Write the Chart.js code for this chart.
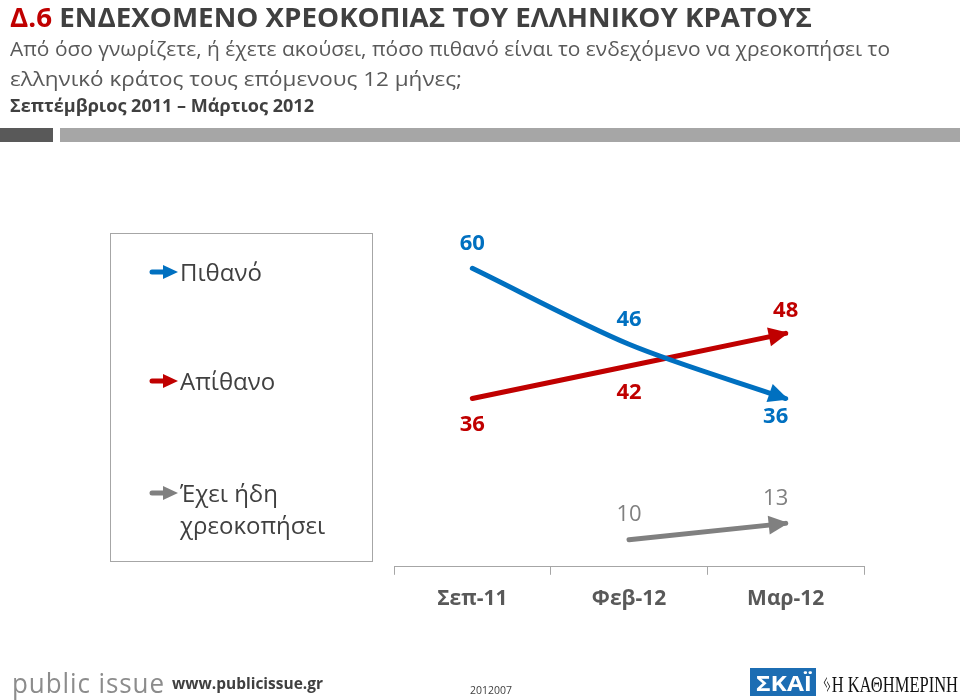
<!DOCTYPE html>
<html>
<head>
<meta charset="utf-8">
<script src="https://cdn.jsdelivr.net/npm/chart.js@4.4.1/dist/chart.umd.min.js"></script>
<style>
  html,body{margin:0;padding:0;background:#fff;}
  body{width:960px;height:700px;overflow:hidden;position:relative;font-family:"Open Sans","Noto Sans",sans-serif;}
  .t{position:absolute;white-space:nowrap;transform-origin:0 0;display:inline-block;line-height:1;}
  #chartWrap{position:absolute;left:0;top:0;width:960px;height:700px;}
  #legend{position:absolute;left:110px;top:233px;width:263px;height:329px;border:1px solid #A6A6A6;box-sizing:border-box;}
  .li{position:absolute;left:38px;font-size:24px;color:#404040;line-height:32px;}
  .li svg{position:absolute;left:0;top:8px;}
  .li span{position:absolute;left:31px;white-space:nowrap;}
</style>
</head>
<body>
<div id="chartWrap"><canvas id="c" width="960" height="700"></canvas></div>

<div class="t" id="title" data-w="802" style="left:10px;top:3px;font-size:27px;font-weight:bold;color:#404040;"><span style="color:#C00000">Δ.6</span> ΕΝΔΕΧΟΜΕΝΟ ΧΡΕΟΚΟΠΙΑΣ ΤΟΥ ΕΛΛΗΝΙΚΟΥ ΚΡΑΤΟΥΣ</div>
<div class="t" data-w="880" style="left:10px;top:39px;font-size:20px;color:#595959;">Από όσο γνωρίζετε, ή έχετε ακούσει, πόσο πιθανό είναι το ενδεχόμενο να χρεοκοπήσει το</div>
<div class="t" data-w="452" style="left:10px;top:69px;font-size:20px;color:#595959;">ελληνικό κράτος τους επόμενους 12 μήνες;</div>
<div class="t" data-w="304" style="left:10px;top:97px;font-size:17px;font-weight:bold;color:#404040;">Σεπτέμβριος 2011 – Μάρτιος 2012</div>
<div style="position:absolute;left:0;top:128px;width:53px;height:14px;background:#595959;"></div>
<div style="position:absolute;left:60px;top:128px;width:900px;height:14px;background:#A6A6A6;"></div>

<div id="legend"></div>

<div class="t" data-w="153" style="left:12px;top:668px;font-size:28px;color:#8C8C8C;letter-spacing:1px;">public issue</div>
<div class="t" data-w="151" style="left:172px;top:675px;font-size:16px;font-weight:bold;color:#404040;">www.publicissue.gr</div>
<div class="t" data-w="42" style="left:470px;top:684px;font-size:11px;color:#404040;">2012007</div>
<div style="position:absolute;left:750px;top:668px;width:66px;height:28px;background:#1C6DB3;"></div>
<div class="t" data-w="56" style="left:756px;top:671px;font-size:22px;font-weight:bold;color:#fff;">ΣΚΑΪ</div>
<div class="t" data-w="136" style="left:822px;top:672px;font-size:24px;color:#111;font-family:'Liberation Serif','DejaVu Serif',serif;">ᛃΗ ΚΑΘΗΜΕΡΙΝΗ</div>

<script>
// ---- data ----
const categories = ['Σεπ-11', 'Φεβ-12', 'Μαρ-12'];
const seriesNames = ['Πιθανό', 'Απίθανο', 'Έχει ήδη χρεοκοπήσει'];
const likely = [60, 46, 36];
const unlikely = [36, 42, 48];
const alreadyDefaulted = [null, 10, 13];

const colors = ['#0070C0', '#C00000', '#808080'];

// ---- legend (HTML) ----
(function(){
  const lg = document.getElementById('legend');
  const tops = [22, 131, 243];
  const labels = [seriesNames[0], seriesNames[1], 'Έχει ήδη<br>χρεοκοπήσει'];
  labels.forEach((txt, i) => {
    const d = document.createElement('div');
    d.className = 'li';
    d.style.top = tops[i] + 'px';
    d.innerHTML = '<svg width="30" height="16" viewBox="0 0 30 16"><line x1="3" y1="8" x2="16" y2="8" stroke="' + colors[i] +
      '" stroke-width="5" stroke-linecap="round"/><polygon points="14,1 29,8 14,15" fill="' + colors[i] + '"/></svg><span>' + txt + '</span>';
    lg.appendChild(d);
  });
})();

// ---- plugins ----
const arrowHeads = {
  id: 'arrowHeads',
  afterDatasetsDraw(chart) {
    const ctx = chart.ctx;
    chart.data.datasets.forEach((ds, di) => {
      const meta = chart.getDatasetMeta(di);
      const pts = meta.data.filter((p, i) => ds.data[i] !== null && ds.data[i] !== undefined);
      if (pts.length < 2) return;
      const last = pts[pts.length - 1];
      let fx = pts[pts.length - 2].x, fy = pts[pts.length - 2].y;
      if (last.cp1x !== undefined && (Math.abs(last.cp1x - last.x) > 1 || Math.abs(last.cp1y - last.y) > 1)) {
        fx = last.cp1x; fy = last.cp1y;
      }
      const ang = Math.atan2(last.y - fy, last.x - fx);
      const tipX = last.x + 3 * Math.cos(ang), tipY = last.y + 3 * Math.sin(ang);
      const L = 20, W = 9.5;
      const bx = tipX - L * Math.cos(ang), by = tipY - L * Math.sin(ang);
      ctx.save();
      ctx.fillStyle = ds.borderColor;
      ctx.beginPath();
      ctx.moveTo(tipX, tipY);
      ctx.lineTo(bx + W * Math.sin(ang), by - W * Math.cos(ang));
      ctx.lineTo(bx - W * Math.sin(ang), by + W * Math.cos(ang));
      ctx.closePath();
      ctx.fill();
      ctx.restore();
    });
  }
};

const valueLabels = {
  id: 'valueLabels',
  afterDatasetsDraw(chart) {
    const ctx = chart.ctx;
    chart.data.datasets.forEach((ds, di) => {
      const meta = chart.getDatasetMeta(di);
      meta.data.forEach((p, i) => {
        const v = ds.data[i];
        if (v === null || v === undefined) return;
        const off = ds.labelOffsets[i];
        ctx.save();
        ctx.font = (ds.labelWeight || 'bold') + ' 22px "Open Sans"';
        ctx.fillStyle = ds.borderColor;
        ctx.textAlign = 'center';
        ctx.textBaseline = 'middle';
        ctx.fillText(String(v), p.x + off[0], p.y + off[1]);
        ctx.restore();
      });
    });
  }
};

new Chart(document.getElementById('c'), {
  type: 'line',
  data: {
    labels: categories,
    datasets: [
      { label: seriesNames[0], data: likely, borderColor: colors[0], borderWidth: 5, tension: 0.3,
        borderCapStyle: 'round', pointRadius: 0, labelOffsets: [[0, -25], [0, -25], [-10, 18]] },
      { label: seriesNames[1], data: unlikely, borderColor: colors[1], borderWidth: 5, tension: 0,
        borderCapStyle: 'round', pointRadius: 0, labelOffsets: [[0, 26], [0, 27], [0, -23]] },
      { label: seriesNames[2], data: alreadyDefaulted, borderColor: colors[2], borderWidth: 5, tension: 0,
        borderCapStyle: 'round', pointRadius: 0, labelWeight: 'normal', labelOffsets: [[0, 0], [0, -25], [-10, -25]] }
    ]
  },
  options: {
    responsive: false,
    animation: false,
    events: [],
    layout: { padding: { left: 394, right: 96, top: 214, bottom: 76 } },
    plugins: { legend: { display: false }, tooltip: { enabled: false }, title: { display: false } },
    scales: {
      x: {
        offset: true,
        grid: { display: true, offset: true, drawOnChartArea: false, drawTicks: true, tickLength: 8, color: '#A6A6A6', lineWidth: 1 },
        border: { display: true, color: '#A6A6A6', width: 1 },
        ticks: { color: '#595959', font: { family: 'Open Sans', size: 21, weight: 'bold' }, padding: 12 }
      },
      y: { display: false, min: 5, max: 70 }
    }
  },
  plugins: [arrowHeads, valueLabels]
});

// ---- fit header/footer text widths ----
function fit() {
  document.querySelectorAll('[data-w]').forEach(el => {
    el.style.transform = 'none';
    const w = el.getBoundingClientRect().width;
    const target = parseFloat(el.getAttribute('data-w'));
    if (w > 0) el.style.transform = 'scaleX(' + (target / w) + ')';
  });
}
if (document.fonts && document.fonts.ready) document.fonts.ready.then(fit); else fit();
fit();
</script>
</body>
</html>
